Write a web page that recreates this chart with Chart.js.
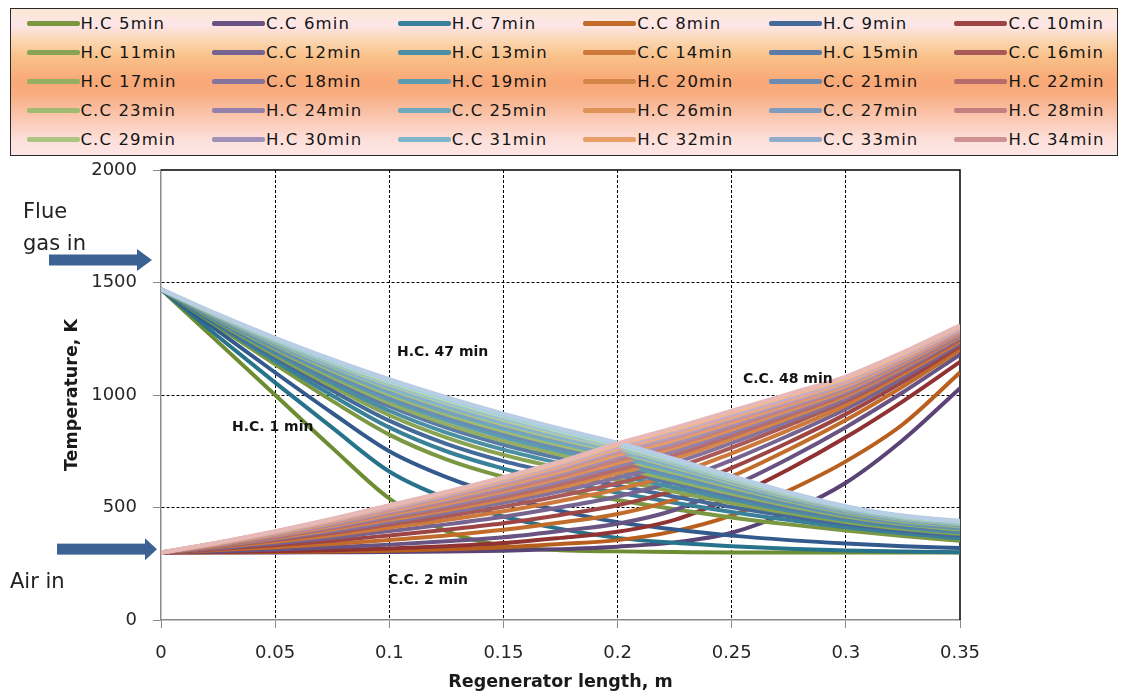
<!DOCTYPE html>
<html>
<head>
<meta charset="utf-8">
<title>Regenerator temperature profiles</title>
<script src="https://cdn.jsdelivr.net/npm/chart.js@4.4.1/dist/chart.umd.min.js"></script>
<style>
    body { margin: 0; background: #fff; }
    #wrap { position: relative; width: 1123px; height: 699px; overflow: hidden; }
    #regen_chart { position: absolute; left: 0; top: 0; }
    #legend_box {
        position: absolute; left: 10px; top: 8px; width: 1108px; height: 148px;
        box-sizing: border-box; border: 1.5px solid #2a2a2a;
        background: linear-gradient(to bottom, #fce7d3 0%, #fde6e8 11%, #fbd2a8 24%, #f9c088 33%,
            #f8a877 50%, #f8ac80 58%, #fac3a9 72%, #fde0dc 90%, #fde6e4 100%);
        display: grid; grid-template-columns: repeat(6, 185.6px); grid-auto-rows: 29px;
        padding-left: 15.5px; align-content: start;
    }
    .leg_item { display: flex; align-items: center; font: 16.5px "DejaVu Sans"; letter-spacing: 1.1px; color: #141414; white-space: nowrap; }
    .leg_line { width: 53px; height: 4.5px; border-radius: 2px; margin-right: 1px; flex: none; }
</style>
</head>
<body>
<div id="wrap">
    <canvas id="regen_chart" width="1123" height="699"></canvas>
    <div id="legend_box"></div>
</div>
<script>
// position along the regenerator, m
const lengthX = [0, 0.025, 0.05, 0.075, 0.1, 0.125, 0.15, 0.175, 0.2, 0.225, 0.25, 0.275, 0.3, 0.325, 0.35];
const xTickLabels = ['0', '0.05', '0.1', '0.15', '0.2', '0.25', '0.3', '0.35'];

// heating cycle (flue gas) profiles, K, at 1, 3, 5 ... 47 min
const hcTimes = [1, 3, 5, 7, 9, 11, 13, 15, 17, 19, 21, 23, 25, 27, 29, 31, 33, 35, 37, 39, 41, 43, 45, 47];
const hcTemps = [
    [1470, 1235, 1000, 765, 540, 395, 330, 310, 305, 302, 300, 300, 300, 300, 300],
    [1470, 1260, 1055, 855, 660, 540, 460, 405, 365, 343, 328, 317, 309, 304, 301],
    [1470, 1285, 1100, 920, 750, 635, 550, 485, 435, 402, 375, 355, 340, 328, 320],
    [1470, 1303, 1136, 974, 824, 714, 636, 580, 533, 492, 456, 425, 398, 373, 352],
    [1470, 1310, 1151, 998, 856, 750, 673, 615, 566, 521, 480, 444, 412, 385, 363],
    [1470, 1317, 1166, 1020, 886, 783, 706, 648, 597, 548, 502, 461, 425, 396, 374],
    [1470, 1322, 1177, 1038, 910, 811, 734, 675, 622, 570, 520, 475, 436, 405, 383],
    [1470, 1327, 1187, 1053, 930, 833, 757, 696, 643, 588, 535, 487, 444, 412, 390],
    [1470, 1331, 1196, 1068, 950, 855, 779, 718, 663, 606, 550, 498, 453, 419, 397],
    [1470, 1334, 1203, 1079, 964, 871, 796, 734, 678, 620, 561, 507, 460, 425, 402],
    [1470, 1338, 1210, 1090, 979, 888, 813, 750, 694, 633, 572, 515, 466, 430, 407],
    [1470, 1340, 1216, 1099, 991, 902, 827, 764, 706, 644, 581, 522, 471, 435, 412],
    [1470, 1343, 1222, 1107, 1002, 914, 840, 776, 718, 654, 589, 529, 476, 439, 416],
    [1470, 1345, 1226, 1115, 1012, 925, 851, 787, 728, 663, 597, 534, 481, 443, 419],
    [1470, 1347, 1230, 1121, 1021, 935, 861, 796, 737, 671, 603, 539, 484, 446, 422],
    [1470, 1349, 1234, 1127, 1028, 943, 869, 804, 745, 678, 609, 544, 488, 449, 425],
    [1470, 1350, 1237, 1131, 1034, 950, 876, 811, 751, 684, 613, 547, 490, 451, 427],
    [1470, 1351, 1240, 1136, 1041, 957, 883, 818, 757, 689, 618, 551, 493, 453, 429],
    [1470, 1353, 1243, 1141, 1047, 964, 890, 824, 764, 695, 622, 554, 496, 455, 432],
    [1470, 1354, 1245, 1144, 1052, 969, 896, 830, 769, 699, 626, 557, 498, 457, 433],
    [1470, 1355, 1248, 1148, 1057, 975, 902, 835, 774, 704, 630, 560, 500, 459, 435],
    [1470, 1356, 1249, 1151, 1060, 979, 906, 839, 778, 707, 633, 562, 502, 460, 437],
    [1470, 1357, 1251, 1153, 1064, 983, 910, 843, 782, 710, 635, 564, 503, 462, 438],
    [1470, 1358, 1254, 1158, 1070, 990, 917, 850, 788, 716, 640, 568, 506, 464, 440]
];

// cooling cycle (air) profiles, K, at 2, 4, 6 ... 48 min
const ccTimes = [2, 4, 6, 8, 10, 12, 14, 16, 18, 20, 22, 24, 26, 28, 30, 32, 34, 36, 38, 40, 42, 44, 46, 48];
const ccTemps = [
    [300, 300, 300, 301, 302, 304, 308, 315, 326, 345, 388, 480, 610, 800, 1030],
    [300, 301, 302, 304, 308, 314, 323, 338, 355, 395, 465, 575, 705, 870, 1100],
    [300, 302, 305, 310, 318, 328, 342, 365, 392, 445, 545, 670, 812, 972, 1147],
    [300, 306, 313, 323, 335, 350, 368, 396, 428, 489, 594, 718, 857, 1012, 1180],
    [300, 311, 323, 338, 356, 376, 401, 433, 471, 535, 638, 758, 889, 1038, 1200],
    [300, 315, 332, 352, 376, 401, 430, 467, 510, 576, 676, 790, 915, 1059, 1216],
    [300, 319, 341, 366, 395, 425, 459, 501, 549, 616, 711, 820, 938, 1077, 1229],
    [300, 323, 348, 377, 410, 444, 483, 529, 581, 647, 741, 844, 955, 1092, 1238],
    [300, 326, 355, 387, 424, 461, 503, 552, 608, 676, 766, 866, 972, 1103, 1246],
    [300, 328, 360, 395, 435, 476, 521, 572, 632, 699, 787, 883, 984, 1112, 1253],
    [300, 330, 364, 402, 445, 488, 535, 589, 652, 718, 805, 897, 996, 1121, 1260],
    [300, 332, 368, 408, 452, 497, 547, 603, 667, 734, 820, 910, 1004, 1128, 1264],
    [300, 334, 372, 414, 461, 508, 560, 618, 684, 751, 834, 922, 1014, 1135, 1269],
    [300, 336, 375, 419, 468, 517, 571, 630, 698, 765, 846, 932, 1022, 1141, 1273],
    [300, 337, 378, 423, 474, 524, 579, 640, 710, 776, 857, 941, 1028, 1146, 1277],
    [300, 338, 381, 428, 480, 533, 590, 652, 724, 789, 868, 950, 1035, 1151, 1281],
    [300, 339, 383, 432, 485, 539, 597, 660, 734, 800, 877, 957, 1041, 1156, 1284],
    [300, 341, 386, 435, 490, 545, 604, 669, 744, 810, 886, 964, 1047, 1160, 1287],
    [300, 342, 388, 439, 495, 551, 612, 678, 753, 819, 895, 972, 1052, 1165, 1290],
    [300, 342, 390, 442, 499, 556, 617, 684, 761, 827, 902, 978, 1058, 1169, 1294],
    [300, 343, 391, 444, 501, 559, 622, 690, 767, 834, 908, 984, 1063, 1173, 1296],
    [300, 344, 392, 446, 504, 563, 626, 695, 773, 841, 915, 990, 1069, 1178, 1300],
    [300, 344, 394, 448, 507, 566, 631, 700, 779, 848, 923, 998, 1075, 1184, 1305],
    [300, 345, 395, 450, 510, 570, 635, 705, 785, 855, 930, 1005, 1082, 1190, 1310]
];

// legend text as printed (series 7 to 36)
const legendLabels = [
    'H.C 5min', 'C.C 6min', 'H.C 7min', 'C.C 8min', 'H.C 9min', 'C.C 10min',
    'H.C 11min', 'C.C 12min', 'H.C 13min', 'C.C 14min', 'H.C 15min', 'C.C 16min',
    'H.C 17min', 'C.C 18min', 'H.C 19min', 'H.C 20min', 'C.C 21min', 'H.C 22min',
    'C.C 23min', 'H.C 24min', 'C.C 25min', 'H.C 26min', 'C.C 27min', 'H.C 28min',
    'C.C 29min', 'H.C 30min', 'C.C 31min', 'H.C 32min', 'C.C 33min', 'H.C 34min'
];

const curveNotes = [
    { text: 'H.C. 47 min', x: 0.1034, y: 1191 },
    { text: 'C.C. 48 min', x: 0.2549, y: 1071 },
    { text: 'H.C. 1 min', x: 0.0311, y: 858 },
    { text: 'C.C. 2 min', x: 0.0994, y: 178 }
];

// office style palette: green, purple, teal, orange, blue, red, dark -> light
const families = [
    [[110, 140, 50], [200, 220, 160]],
    [[90, 68, 118], [190, 175, 210]],
    [[40, 115, 140], [160, 210, 225]],
    [[185, 95, 30], [250, 185, 130]],
    [[50, 90, 140], [185, 205, 229]],
    [[145, 50, 50], [230, 185, 184]]
];

function seriesColor(i) {
    const fam = families[i % 6];
    const k = Math.floor(i / 6) / 7;
    const c = fam[0].map((v, j) => Math.round(v + (fam[1][j] - v) * k));
    return 'rgb(' + c.join(',') + ')';
}

const datasets = [];
for (let i = 0; i < 48; i++) {
    const isHeating = i % 2 === 0;
    const temps = isHeating ? hcTemps[i / 2] : ccTemps[(i - 1) / 2];
    const time = isHeating ? hcTimes[i / 2] : ccTimes[(i - 1) / 2];
    const label = (i >= 6 && i < 36) ? legendLabels[i - 6] : (isHeating ? 'H.C ' : 'C.C ') + time + 'min';
    datasets.push({
        label: label,
        data: lengthX.map((x, j) => ({ x: x, y: temps[j] })),
        borderColor: seriesColor(i),
        backgroundColor: seriesColor(i),
        borderWidth: 4,
        pointRadius: 0,
        fill: false,
        cubicInterpolationMode: 'monotone',
        order: -i   // later series on top, like the original
    });
}

function drawArrow(ctx, x0, xHead, xTip, y, color) {
    ctx.fillStyle = color;
    ctx.fillRect(x0, y - 5.5, xHead - x0, 11);
    ctx.beginPath();
    ctx.moveTo(xHead, y - 11);
    ctx.lineTo(xTip, y);
    ctx.lineTo(xHead, y + 11);
    ctx.closePath();
    ctx.fill();
}

const regenExtras = {
    id: 'regenExtras',
    beforeDatasetsDraw(chart) {
        const { ctx, chartArea } = chart;
        ctx.save();
        ctx.strokeStyle = '#000';
        ctx.lineWidth = 1.5;
        ctx.beginPath();
        ctx.moveTo(chartArea.left, chartArea.top);
        ctx.lineTo(chartArea.right, chartArea.top);
        ctx.lineTo(chartArea.right, chartArea.bottom);
        ctx.stroke();
        ctx.restore();
    },
    afterDatasetsDraw(chart) {
        const { ctx, chartArea, scales } = chart;
        ctx.save();
        ctx.fillStyle = '#141414';
        ctx.font = 'bold 14px "DejaVu Sans"';
        ctx.textAlign = 'left';
        ctx.textBaseline = 'middle';
        curveNotes.forEach(n => {
            ctx.fillText(n.text, scales.x.getPixelForValue(n.x), scales.y.getPixelForValue(n.y));
        });

        // inlet markers at the left of the plot
        const flueY = scales.y.getPixelForValue(1600);
        const airY = scales.y.getPixelForValue(315);
        const left = chartArea.left;
        ctx.font = '21px "DejaVu Sans"';
        ctx.fillStyle = '#222';
        ctx.fillText('Flue', 23, flueY - 47);
        ctx.fillText('gas in', 23, flueY - 15);
        ctx.fillText('Air in', 10, airY + 33);
        drawArrow(ctx, left - 112, left - 24, left - 9, flueY, '#3c6293');
        drawArrow(ctx, left - 104, left - 16, left - 4, airY, '#3c6293');
        ctx.restore();
    }
};

const clearEnds = (lo, hi) => (c) => {
    if (!c.tick) return '#000';
    const v = c.tick.value;
    return (Math.abs(v - lo) < 1e-9 || Math.abs(v - hi) < 1e-9) ? 'rgba(0,0,0,0)' : '#000';
};

Chart.defaults.font.family = '"DejaVu Sans"';

const ctx = document.getElementById('regen_chart').getContext('2d');
const regenChart = new Chart(ctx, {
    type: 'line',
    data: { datasets: datasets },
    options: {
        responsive: false,
        animation: false,
        events: [],
        layout: { padding: { top: 170, right: 163, bottom: 2, left: 58 } },
        plugins: {
            legend: { display: false },
            tooltip: { enabled: false }
        },
        scales: {
            x: {
                type: 'linear',
                min: 0,
                max: 0.35,
                ticks: {
                    stepSize: 0.05,
                    padding: 15,
                    color: '#262626',
                    font: { size: 18 },
                    callback: v => xTickLabels[Math.round(v / 0.05)]
                },
                grid: { color: clearEnds(0, 0.35), tickColor: '#8a8a8a', tickLength: 8, lineWidth: 1 },
                border: { color: '#8a8a8a', width: 1.5, dash: [3, 2] },
                title: {
                    display: true,
                    text: 'Regenerator length, m',
                    color: '#1a1a1a',
                    font: { size: 17.5, weight: 'bold' },
                    padding: { top: 4, bottom: 4 }
                },
                afterFit: s => { s.height = 77; }
            },
            y: {
                type: 'linear',
                min: 0,
                max: 2000,
                ticks: {
                    stepSize: 500,
                    padding: 16,
                    color: '#262626',
                    font: { size: 18 },
                    callback: v => String(v)
                },
                grid: { color: clearEnds(0, 2000), tickColor: '#8a8a8a', tickLength: 8, lineWidth: 1 },
                border: { color: '#8a8a8a', width: 1.5, dash: [3, 2] },
                title: {
                    display: true,
                    text: 'Temperature, K',
                    color: '#1a1a1a',
                    font: { size: 17.5, weight: 'bold' },
                    padding: { top: 4, bottom: 4 }
                },
                afterFit: s => { s.width = 103; }
            }
        }
    },
    plugins: [regenExtras]
});

// legend box: only series 7..36 are listed in the original
const legendBox = document.getElementById('legend_box');
regenChart.data.datasets.slice(6, 36).forEach(ds => {
    const item = document.createElement('div');
    item.className = 'leg_item';
    const swatch = document.createElement('span');
    swatch.className = 'leg_line';
    swatch.style.background = ds.borderColor;
    const txt = document.createElement('span');
    txt.textContent = ds.label;
    item.appendChild(swatch);
    item.appendChild(txt);
    legendBox.appendChild(item);
});
</script>
</body>
</html>
